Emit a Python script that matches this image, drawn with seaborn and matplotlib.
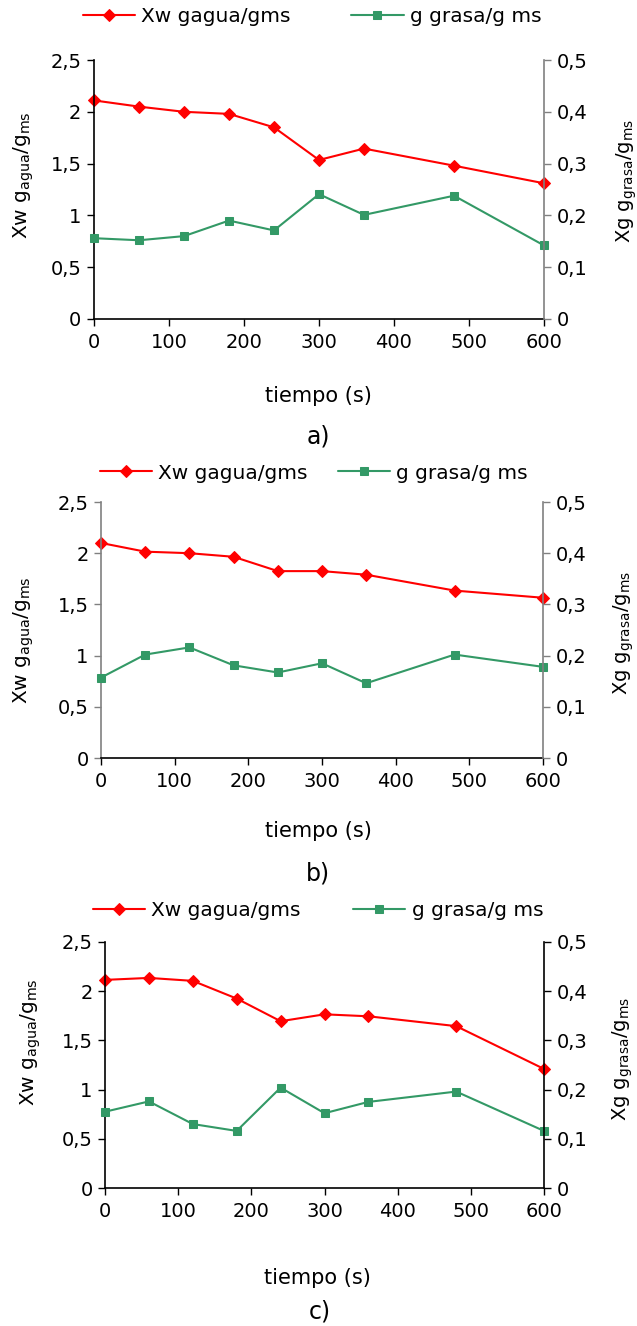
import numpy as np
import pandas as pd
import matplotlib
matplotlib.use("Agg")
import matplotlib.pyplot as plt
from matplotlib.ticker import FuncFormatter, MultipleLocator
import seaborn as sns

# Sampling times (s)
tiempo = [0, 60, 120, 180, 240, 300, 360, 480, 600]

# Moisture content Xw (g agua / g ms) for each experiment
xw_a = [2.11, 2.05, 2.00, 1.98, 1.85, 1.535, 1.645, 1.48, 1.31]
xw_b = [2.10, 2.015, 2.00, 1.965, 1.825, 1.825, 1.79, 1.635, 1.565]
xw_c = [2.115, 2.135, 2.105, 1.925, 1.695, 1.765, 1.745, 1.645, 1.21]

# Fat content Xg (g grasa / g ms) for each experiment
xg_a = [0.156, 0.152, 0.160, 0.190, 0.171, 0.241, 0.201, 0.238, 0.142]
xg_b = [0.157, 0.202, 0.216, 0.181, 0.167, 0.185, 0.146, 0.202, 0.178]
xg_c = [0.155, 0.176, 0.130, 0.116, 0.204, 0.152, 0.175, 0.196, 0.116]

panel_labels = ["a)", "b)", "c)"]
legend_labels = ["Xw gagua/gms", "g grasa/g ms"]
xlabel = "tiempo (s)"
ylabel_left = r"Xw g$_{\mathregular{agua}}$/g$_{\mathregular{ms}}$"
ylabel_right = r"Xg g$_{\mathregular{grasa}}$/g$_{\mathregular{ms}}$"

RED = "#FF0000"
GREEN = "#339966"

sns.set_style("white")
plt.rcParams["font.family"] = ["DejaVu Sans"]
plt.rcParams["mathtext.fontset"] = "dejavusans"
plt.rcParams["text.color"] = "black"
plt.rcParams["axes.labelcolor"] = "black"
plt.rcParams["xtick.color"] = "black"
plt.rcParams["ytick.color"] = "black"

W, H = 637, 1326
fig = plt.figure(figsize=(W / 100, H / 100), dpi=100)


def px_axes(left, right, top, bottom):
    return [left / W, (H - bottom) / H, (right - left) / W, (bottom - top) / H]


comma = FuncFormatter(lambda v, p: f"{v:g}".replace(".", ","))

panels = [
    dict(box=(94, 544, 60, 319), xw=xw_a, xg=xg_a,
         lspine="black", rspine="#808080",
         ylab_l=(-0.13, 0.556), ylab_r=(1.156, 0.533), xlab=(0.498, -0.259),
         leg=(312, 17, 3.0), tag=(318, 437)),
    dict(box=(101, 543, 502, 758), xw=xw_b, xg=xg_b,
         lspine="#808080", rspine="#808080",
         ylab_l=(-0.148, 0.461), ylab_r=(1.156, 0.49), xlab=(0.491, -0.246),
         leg=(314, 473, 1.5), tag=(318, 873)),
    dict(box=(105, 544, 942, 1188), xw=xw_c, xg=xg_c,
         lspine="black", rspine="black",
         ylab_l=(-0.142, 0.593), ylab_r=(1.152, 0.524), xlab=(0.485, -0.325),
         leg=(318, 911, 2.6), tag=(320, 1311)),
]

for i, p in enumerate(panels):
    ax = fig.add_axes(px_axes(*p["box"]))
    ax2 = ax.twinx()

    df = pd.DataFrame({"tiempo": tiempo, "xw": p["xw"], "xg": p["xg"]})
    sns.lineplot(data=df, x="tiempo", y="xw", ax=ax, color=RED, marker="D",
                 markersize=6.5, markeredgecolor=RED, linewidth=1.5,
                 clip_on=False, label=legend_labels[0], legend=False)
    sns.lineplot(data=df, x="tiempo", y="xg", ax=ax2, color=GREEN, marker="s",
                 markersize=5.5, markeredgecolor=GREEN, linewidth=1.5,
                 clip_on=False, label=legend_labels[1], legend=False)

    ax.set_xlim(0, 600)
    ax.set_ylim(0, 2.5)
    ax2.set_ylim(0, 0.5)
    ax.xaxis.set_major_locator(MultipleLocator(100))
    ax.yaxis.set_major_locator(MultipleLocator(0.5))
    ax2.yaxis.set_major_locator(MultipleLocator(0.1))
    ax.yaxis.set_major_formatter(comma)
    ax2.yaxis.set_major_formatter(comma)

    for a in (ax, ax2):
        a.spines["top"].set_visible(False)
        a.set_facecolor("none")
    ax.spines["right"].set_visible(False)
    ax2.spines["left"].set_visible(False)
    ax2.spines["bottom"].set_visible(False)
    ax.spines["left"].set_color(p["lspine"])
    ax.spines["bottom"].set_color("black")
    ax2.spines["right"].set_color(p["rspine"])
    for s in (ax.spines["left"], ax.spines["bottom"], ax2.spines["right"]):
        s.set_linewidth(1.2)

    ax.tick_params(axis="x", direction="out", length=5, width=1, colors="black",
                   labelsize=14, bottom=True, pad=5)
    ax.tick_params(axis="y", direction="out", length=5, width=1,
                   color=p["lspine"], labelcolor="black", labelsize=14, left=True, pad=4)
    ax2.tick_params(axis="y", direction="out", length=5, width=1,
                    color=p["rspine"], labelcolor="black", labelsize=14, right=True, pad=4)

    ax.set_xlabel(xlabel, fontsize=15, color="black")
    ax.xaxis.set_label_coords(*p["xlab"])
    ax.set_ylabel(ylabel_left, fontsize=14.5, color="black")
    ax.yaxis.set_label_coords(*p["ylab_l"])
    ax2.set_ylabel(ylabel_right, fontsize=14, color="black")
    ax2.yaxis.set_label_coords(*p["ylab_r"])

    handles = [ax.lines[0], ax2.lines[0]]
    lx, ly, cs = p["leg"]
    fig.legend(handles, legend_labels, loc="center",
               bbox_to_anchor=(lx / W, 1 - ly / H), ncol=2, frameon=False,
               fontsize=14.5, handlelength=2.6, handletextpad=0.3,
               columnspacing=cs, borderpad=0, labelcolor="black")

    fig.text(p["tag"][0] / W, 1 - p["tag"][1] / H, panel_labels[i],
             ha="center", va="center", fontsize=17, color="black")

fig.savefig("out.png", dpi=100, facecolor="white")
